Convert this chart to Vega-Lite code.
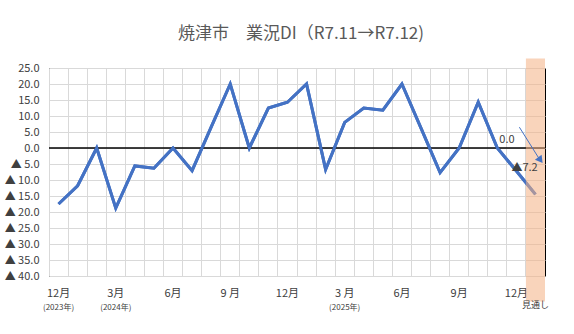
{
  "$schema": "https://vega.github.io/schema/vega-lite/v6.json",
  "width": 496,
  "height": 208,
  "autosize": {"type": "none"},
  "padding": {"left": 49, "top": 68, "right": 29, "bottom": 58},
  "background": "white",
  "title": {
    "text": "焼津市　業況DI（R7.11→R7.12)",
    "font": "Noto Sans CJK JP",
    "fontSize": 17,
    "fontWeight": "normal",
    "color": "#595959",
    "anchor": "middle",
    "offset": 15,
    "dx": 4
  },
  "config": {
    "view": {"stroke": "#000000", "strokeWidth": 1},
    "axis": {
      "labelFont": "Noto Sans CJK JP",
      "labelFontSize": 11,
      "labelColor": "#404040",
      "gridColor": "#d9d9d9",
      "gridWidth": 1,
      "domain": false,
      "ticks": false
    },
    "axisY": {
      "grid": true,
      "labelOverlap": false,
      "tickCount": 13,
      "labelPadding": 10,
      "labelExpr": "datum.value < 0 ? '▲ ' + format(-datum.value, '.1f') : format(datum.value, '.1f')"
    }
  },
  "datasets": {
    "di": [
      {"m": "2023-12", "v": -17.5},
      {"m": "2024-01", "v": -11.8},
      {"m": "2024-02", "v": 0},
      {"m": "2024-03", "v": -18.8},
      {"m": "2024-04", "v": -5.6},
      {"m": "2024-05", "v": -6.3},
      {"m": "2024-06", "v": 0},
      {"m": "2024-07", "v": -7.1},
      {"m": "2024-08", "v": 6.5},
      {"m": "2024-09", "v": 20},
      {"m": "2024-10", "v": 0},
      {"m": "2024-11", "v": 12.5},
      {"m": "2024-12", "v": 14.3},
      {"m": "2025-01", "v": 20},
      {"m": "2025-02", "v": -6.7},
      {"m": "2025-03", "v": 8.0},
      {"m": "2025-04", "v": 12.5},
      {"m": "2025-05", "v": 11.8},
      {"m": "2025-06", "v": 20},
      {"m": "2025-07", "v": 6.2},
      {"m": "2025-08", "v": -7.7},
      {"m": "2025-09", "v": 0},
      {"m": "2025-10", "v": 14.3},
      {"m": "2025-11", "v": 0},
      {"m": "2025-12", "v": -7.2},
      {"m": "見通し", "v": -14.5}
    ],
    "lab0": [{"m": "2025-11", "v": 0, "t": "0.0"}],
    "lab1": [{"m": "2025-12", "v": -7.2, "t": "▲7.2"}],
    "sub": [
      {"m": "2023-12", "t": "(2023年)"},
      {"m": "2024-03", "t": "(2024年)"},
      {"m": "2025-03", "t": "(2025年)"}
    ],
    "fc": [{"m": "見通し", "t": "見通し"}],
    "arrow": [{"m": "2025-12", "m2": "見通し", "a": 6.5, "b": -3.5}]
  },
  "encoding": {
    "x": {
      "field": "m",
      "type": "ordinal",
      "sort": null,
      "title": null,
      "scale": {"paddingInner": 0, "paddingOuter": 0},
      "axis": {
        "grid": true,
        "bandPosition": 0,
        "labelAngle": 0,
        "labelPadding": 11,
        "labelBound": false,
        "labelOverlap": false,
        "labelFlush": false,
        "labelExpr": "({'2023-12':'12月','2024-03':'3月','2024-06':'6月','2024-09':'9 月','2024-12':'12月','2025-03':'3 月','2025-06':'6月','2025-09':'9月','2025-12':'12月'})[datum.value] || ''"
      }
    }
  },
  "layer": [
    {
      "data": {"name": "di"},
      "mark": {"type": "line", "color": "#4472C4", "strokeWidth": 3},
      "encoding": {
        "y": {
          "field": "v",
          "type": "quantitative",
          "title": null,
          "scale": {"domain": [-40, 25], "nice": false, "zero": false}
        }
      }
    },
    {
      "data": {"name": "fc"},
      "mark": {"type": "rule", "color": "#000000", "strokeWidth": 1.5, "clip": false},
      "encoding": {
        "x": {"datum": "2023-12", "type": "ordinal", "bandPosition": 0},
        "x2": {"datum": "見通し", "bandPosition": 1},
        "y": {"datum": 0, "type": "quantitative"}
      }
    },
    {
      "data": {"name": "di"},
      "mark": {"type": "line", "color": "#4472C4", "strokeWidth": 3},
      "encoding": {
        "y": {"field": "v", "type": "quantitative"}
      }
    },
    {
      "data": {"name": "fc"},
      "mark": {"type": "rect", "color": "#F4B183", "opacity": 0.55, "clip": false},
      "encoding": {
        "y": {"datum": 28, "type": "quantitative"},
        "y2": {"datum": -48}
      }
    },
    {
      "data": {"name": "lab0"},
      "mark": {"type": "text", "font": "Noto Sans CJK JP", "fontSize": 11, "color": "#404040", "align": "left", "dx": 2, "dy": -8},
      "encoding": {
        "y": {"field": "v", "type": "quantitative"},
        "text": {"field": "t"}
      }
    },
    {
      "data": {"name": "lab1"},
      "mark": {"type": "text", "font": "Noto Sans CJK JP", "fontSize": 11, "color": "#404040", "align": "left", "dx": -5, "dy": -3},
      "encoding": {
        "y": {"field": "v", "type": "quantitative"},
        "text": {"field": "t"}
      }
    },
    {
      "data": {"name": "sub"},
      "mark": {"type": "text", "font": "Noto Sans CJK JP", "fontSize": 8, "color": "#404040", "clip": false},
      "encoding": {
        "y": {"datum": -50, "type": "quantitative"},
        "text": {"field": "t"}
      }
    },
    {
      "data": {"name": "fc"},
      "mark": {"type": "text", "font": "Noto Sans CJK JP", "fontSize": 9, "color": "#404040", "clip": false},
      "encoding": {
        "y": {"datum": -49, "type": "quantitative"},
        "text": {"field": "t"}
      }
    },
    {
      "data": {"name": "arrow"},
      "mark": {"type": "rule", "color": "#4472C4", "strokeWidth": 1, "xOffset": 3, "x2Offset": 4},
      "encoding": {
        "y": {"field": "a", "type": "quantitative"},
        "y2": {"field": "b"},
        "x2": {"field": "m2"}
      }
    },
    {
      "data": {"name": "arrow"},
      "mark": {"type": "point", "shape": "triangle-up", "filled": true, "color": "#4472C4", "opacity": 1, "size": 70, "angle": 143, "xOffset": 5, "yOffset": 1},
      "encoding": {
        "x": {"field": "m2", "type": "ordinal", "sort": null},
        "y": {"field": "b", "type": "quantitative"}
      }
    }
  ]
}
